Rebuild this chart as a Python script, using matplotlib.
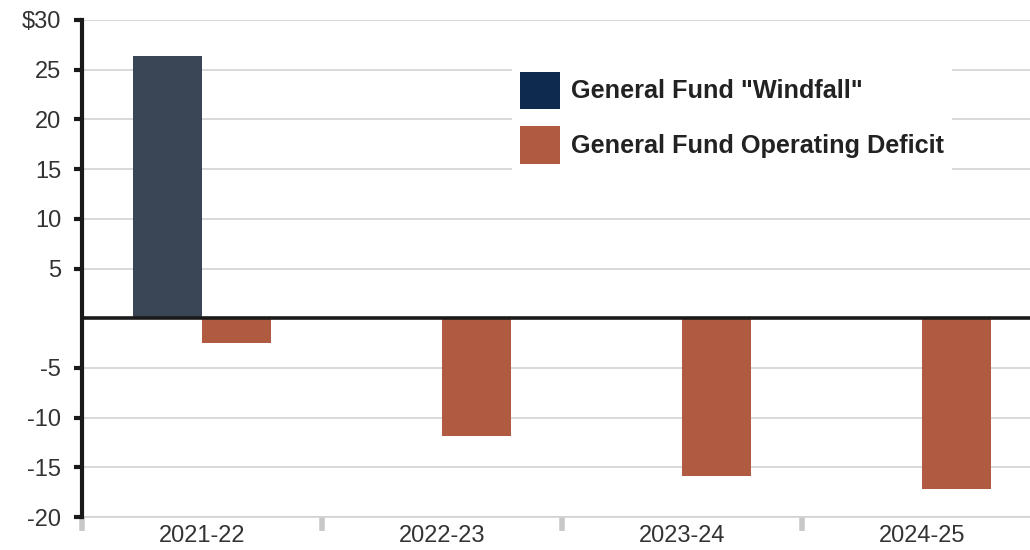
import numpy as np
import matplotlib.pyplot as plt
from matplotlib.patches import Patch

plt.rcParams['font.family'] = ['Liberation Sans', 'DejaVu Sans']

years = ['2021-22', '2022-23', '2023-24', '2024-25']
windfall = [26.4, 0, 0, 0]
deficit = [-2.5, -11.9, -15.9, -17.2]
yticks = [-20, -15, -10, -5, 5, 10, 15, 20, 25, 30]
ylabels = ['-20', '-15', '-10', '-5', '5', '10', '15', '20', '25', '$30']

bar_col = '#3a4556'
leg_col = '#0e2a4f'
def_col = '#b05a41'
grid_col = '#d2d2d2'

fig = plt.figure(figsize=(10.3, 5.5), dpi=100)
ax = fig.add_axes([82 / 1030, 33 / 550, 948 / 1030, 497 / 550])

x = np.arange(len(years))
w = 0.2875
ax.bar(x[:1] - w / 2, windfall[:1], w, color=bar_col, zorder=3)
ax.bar(x + w / 2, deficit, w, color=def_col, zorder=3)

ax.set_xlim(-0.5, -0.5 + 948 / 240)
ax.set_ylim(-20, 30)

for v in yticks:
    ax.axhline(v, color=grid_col, lw=1.2, zorder=1)
ax.axhline(0, color='#1a1a1a', lw=2.6, zorder=4)

ax.set_yticks(yticks)
ax.set_yticklabels(ylabels)
ax.tick_params(axis='y', length=6, width=3, color='#1a1a1a', labelsize=17,
               labelcolor='#333333', pad=9)

ax.set_xticks(x, minor=False)
ax.set_xticklabels(years)
ax.tick_params(axis='x', which='major', length=0, labelsize=17,
               labelcolor='#333333', pad=6)
ax.set_xticks(np.arange(len(years)) - 0.5, minor=True)
ax.tick_params(axis='x', which='minor', length=10, width=4, color='#c8c8c8',
               direction='out')

for s in ['top', 'right']:
    ax.spines[s].set_visible(False)
ax.spines['bottom'].set_color(grid_col)
ax.spines['bottom'].set_linewidth(1.2)
ax.spines['left'].set_color('#1a1a1a')
ax.spines['left'].set_linewidth(3)
ax.spines['left'].set_zorder(5)

handles = [Patch(facecolor=leg_col), Patch(facecolor=def_col)]
leg = ax.legend(handles, ['General Fund "Windfall"', 'General Fund Operating Deficit'],
                loc='upper left', bbox_to_anchor=(512 / 1030, 1 - 64 / 550),
                bbox_transform=fig.transFigure,
                prop={'weight': 'bold', 'size': 18.2}, frameon=True,
                fancybox=False, edgecolor='none', facecolor='white', framealpha=1,
                handlelength=1.6, handleheight=1.9, handletextpad=0.45,
                labelspacing=0.68, borderpad=0.3, borderaxespad=0)
leg.set_zorder(6)
for t in leg.get_texts():
    t.set_color('#222222')

fig.savefig('out.png', dpi=100)
